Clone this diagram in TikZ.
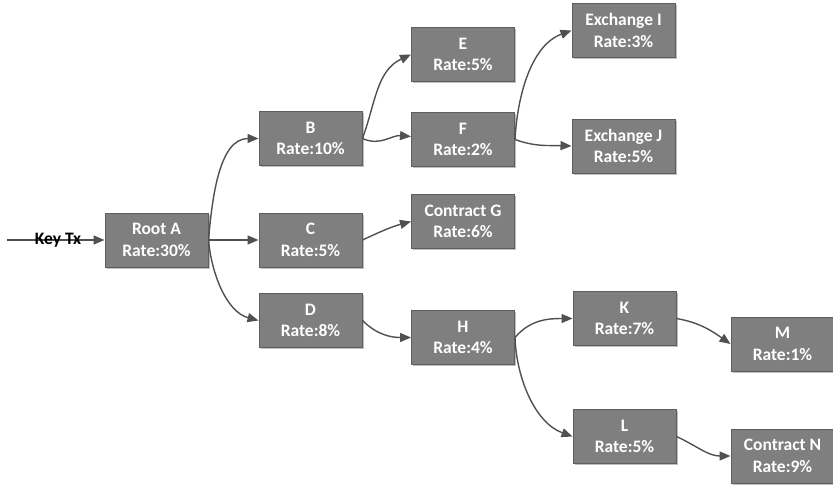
\documentclass[tikz,border=0pt]{standalone}
\usepackage{fontspec}
\setmainfont{Carlito}
\usetikzlibrary{arrows.meta,shadows}
\definecolor{boxfill}{HTML}{7F7F7F}
\definecolor{boxline}{HTML}{5E5E5E}
\definecolor{edgecol}{HTML}{505050}
\tikzset{
  txbox/.style={draw=boxline, line width=1pt, fill=boxfill, minimum width=103pt, minimum height=54pt,
    inner sep=0pt, align=center, text=white, font=\fontsize{17.5}{21.5}\selectfont\bfseries,
    drop shadow={shadow xshift=1.5pt, shadow yshift=-1.5pt, fill=black!25, opacity=1}},
  link/.style={draw=edgecol, line width=1.4pt, -{Triangle[length=11pt,width=9pt]}},
}
\begin{document}
\begin{tikzpicture}[x=1pt,y=-1pt]
\useasboundingbox (0,0) rectangle (833,485);
\node[txbox] (A) at (156.5,240) {Root A\\Rate:30\%};
\node[txbox] (B) at (310.5,138.5) {B\\Rate:10\%};
\node[txbox] (C) at (310.5,240) {C\\Rate:5\%};
\node[txbox] (D) at (310.5,320.5) {D\\Rate:8\%};
\node[txbox] (E) at (463,54.5) {E\\Rate:5\%};
\node[txbox] (F) at (463,139.5) {F\\Rate:2\%};
\node[txbox] (G) at (463,221.5) {Contract G\\Rate:6\%};
\node[txbox] (H) at (463,337.5) {H\\Rate:4\%};
\node[txbox] (I) at (623.5,30.5) {Exchange I\\Rate:3\%};
\node[txbox] (J) at (623.5,146) {Exchange J\\Rate:5\%};
\node[txbox] (K) at (624.5,318.5) {K\\Rate:7\%};
\node[txbox] (L) at (624.5,436.5) {L\\Rate:5\%};
\node[txbox] (M) at (782.5,344) {M\\Rate:1\%};
\node[txbox] (N) at (782.5,456) {Contract N\\Rate:9\%};
\coordinate (S) at (7,240);
\draw[link] (S) -- (A.west);
\node[font=\fontsize{17.5}{21.5}\selectfont\bfseries, text=black, inner sep=0pt] (KT) at (58,240) {Key Tx};
\draw[link] (A.east) to[out=85,in=180,looseness=0.9] (B.west);
\draw[link] (A.east) -- (C.west);
\draw[link] (A.east) to[out=-85,in=165,looseness=0.9] (D.west);
\draw[link] (B.east) to[out=70,in=205] (E.west);
\draw[link] (B.east) to[out=-25,in=175] ([yshift=3pt]F.west);
\draw[link] (F.east) to[out=87,in=200,looseness=0.9] (I.west);
\draw[link] (F.east) to[out=-20,in=178] (J.west);
\draw[link] (C.east) to[out=25,in=195] (G.west);
\draw[link] (D.east) to[out=-45,in=180] (H.west);
\draw[link] (H.east) to[out=50,in=180] (K.west);
\draw[link] (H.east) to[out=-88,in=160,looseness=0.9] (L.west);
\draw[link] (K.east) to[out=-10,in=145] (M.west);
\draw[link] (L.east) to[out=-25,in=180] (N.west);
\end{tikzpicture}
\end{document}
